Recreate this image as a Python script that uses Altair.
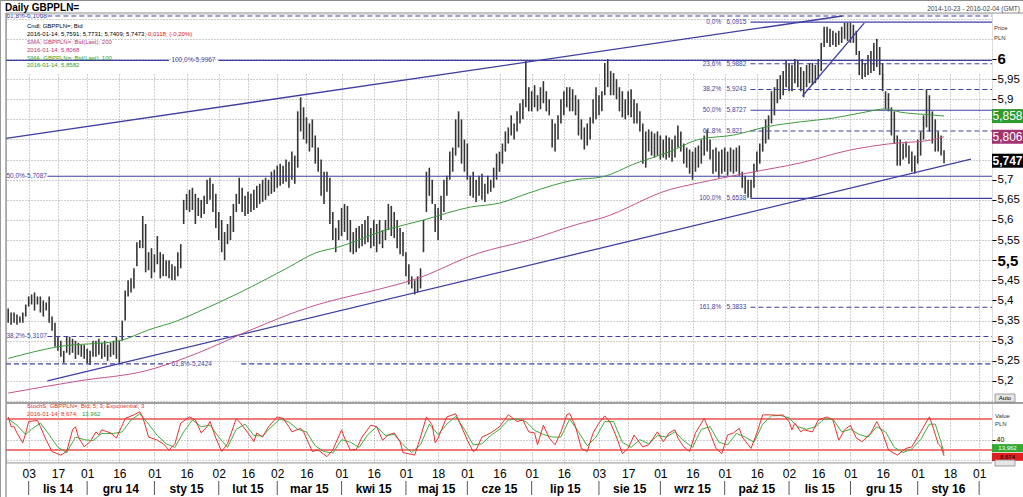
import altair as alt
import numpy as np
import pandas as pd

FONT = "Liberation Sans"
START = "2014-10-23"  # weekday index 0 = first candle

# ---------------- candles (daily high / low) ----------------
high = [
    5.38, 5.37, 5.37, 5.365, 5.36, 5.37, 5.39, 5.41, 5.415, 5.42,
    5.41, 5.41, 5.40, 5.395, 5.41, 5.36, 5.345, 5.31, 5.30, 5.275,
    5.31, 5.31, 5.305, 5.30, 5.295, 5.29, 5.29, 5.28, 5.275, 5.30,
    5.30, 5.305, 5.295, 5.30, 5.29, 5.295, 5.30, 5.31, 5.30, 5.35,
    5.425, 5.45, 5.455, 5.48, 5.545, 5.55, 5.61, 5.59, 5.52, 5.53,
    5.515, 5.56, 5.52, 5.515, 5.50, 5.50, 5.49, 5.485, 5.52, 5.54,
    5.65, 5.665, 5.675, 5.68, 5.665, 5.655, 5.65, 5.66, 5.70, 5.705,
    5.69, 5.665, 5.62, 5.60, 5.57, 5.59, 5.61, 5.64, 5.665, 5.705,
    5.68, 5.66, 5.67, 5.665, 5.675, 5.685, 5.69, 5.70, 5.705, 5.70,
    5.72, 5.725, 5.735, 5.74, 5.735, 5.75, 5.745, 5.77, 5.76, 5.87,
    5.905, 5.88, 5.855, 5.84, 5.85, 5.81, 5.78, 5.75, 5.72, 5.72,
    5.705, 5.62, 5.58, 5.60, 5.63, 5.64, 5.635, 5.60, 5.57, 5.58,
    5.585, 5.59, 5.60, 5.61, 5.58, 5.60, 5.59, 5.60, 5.575, 5.60,
    5.64, 5.635, 5.62, 5.60, 5.58, 5.57, 5.52, 5.49, 5.46, 5.45,
    5.46, 5.48, 5.60, 5.72, 5.73, 5.70, 5.64, 5.63, 5.66, 5.70,
    5.71, 5.77, 5.78, 5.85, 5.87, 5.85, 5.80, 5.79, 5.71, 5.72,
    5.70, 5.71, 5.715, 5.69, 5.71, 5.70, 5.73, 5.765, 5.77, 5.79,
    5.82, 5.83, 5.86, 5.84, 5.87, 5.89, 5.90, 5.995, 5.93, 5.92,
    5.935, 5.91, 5.93, 5.945, 5.92, 5.90, 5.85, 5.84, 5.86, 5.90,
    5.92, 5.93, 5.93, 5.925, 5.91, 5.90, 5.85, 5.83, 5.84, 5.855,
    5.90, 5.93, 5.91, 5.92, 5.99, 6.00, 5.97, 5.965, 5.95, 5.93,
    5.92, 5.90, 5.92, 5.925, 5.90, 5.89, 5.87, 5.84, 5.82, 5.825,
    5.82, 5.815, 5.82, 5.81, 5.80, 5.81, 5.805, 5.80, 5.81, 5.835,
    5.82, 5.79, 5.78, 5.775, 5.77, 5.78, 5.785, 5.80, 5.81, 5.825,
    5.80, 5.775, 5.78, 5.77, 5.775, 5.78, 5.77, 5.78, 5.775, 5.78,
    5.785, 5.72, 5.71, 5.70, 5.70, 5.74, 5.77, 5.79, 5.83, 5.85,
    5.86, 5.92, 5.93, 5.95, 5.96, 5.97, 5.995, 5.99, 5.985, 6.00,
    5.995, 5.98, 5.97, 5.985, 5.99, 5.99, 5.985, 6.00, 6.04, 6.08,
    6.08, 6.075, 6.07, 6.065, 6.07, 6.08, 6.09, 6.09, 6.09, 6.085,
    6.07, 6.02, 6.00, 5.99, 6.01, 6.02, 6.04, 6.05, 6.03, 5.99,
    5.92, 5.915, 5.88, 5.87, 5.81, 5.80, 5.79, 5.795, 5.785, 5.77,
    5.76, 5.80, 5.82, 5.86, 5.925, 5.91, 5.87, 5.85, 5.82, 5.81, 5.7731,
]
low = [
    5.345, 5.34, 5.345, 5.34, 5.345, 5.345, 5.36, 5.385, 5.39, 5.375,
    5.39, 5.37, 5.36, 5.375, 5.345, 5.325, 5.285, 5.275, 5.26, 5.245,
    5.27, 5.265, 5.27, 5.255, 5.265, 5.26, 5.255, 5.245, 5.24, 5.26,
    5.26, 5.265, 5.255, 5.26, 5.25, 5.26, 5.265, 5.255, 5.245, 5.30,
    5.35, 5.41, 5.42, 5.43, 5.485, 5.53, 5.53, 5.47, 5.475, 5.455,
    5.47, 5.49, 5.455, 5.46, 5.46, 5.455, 5.45, 5.45, 5.46, 5.48,
    5.59, 5.625, 5.62, 5.625, 5.59, 5.61, 5.605, 5.615, 5.64, 5.65,
    5.62, 5.58, 5.55, 5.52, 5.50, 5.54, 5.55, 5.57, 5.62, 5.64,
    5.62, 5.61, 5.615, 5.62, 5.625, 5.63, 5.64, 5.645, 5.65, 5.66,
    5.665, 5.67, 5.68, 5.685, 5.69, 5.695, 5.68, 5.70, 5.69, 5.73,
    5.82, 5.80, 5.79, 5.77, 5.78, 5.74, 5.72, 5.66, 5.64, 5.67,
    5.59, 5.55, 5.52, 5.55, 5.56, 5.57, 5.55, 5.52, 5.515, 5.52,
    5.53, 5.535, 5.54, 5.545, 5.53, 5.535, 5.52, 5.54, 5.53, 5.55,
    5.575, 5.56, 5.555, 5.53, 5.515, 5.51, 5.46, 5.44, 5.43, 5.415,
    5.42, 5.43, 5.52, 5.62, 5.66, 5.64, 5.57, 5.55, 5.60, 5.62,
    5.66, 5.70, 5.72, 5.76, 5.78, 5.74, 5.72, 5.70, 5.66, 5.655,
    5.645, 5.66, 5.65, 5.645, 5.665, 5.67, 5.68, 5.70, 5.72, 5.74,
    5.77, 5.79, 5.81, 5.80, 5.82, 5.84, 5.85, 5.88, 5.87, 5.87,
    5.88, 5.87, 5.875, 5.89, 5.87, 5.86, 5.78, 5.77, 5.80, 5.84,
    5.86, 5.88, 5.87, 5.87, 5.86, 5.81, 5.80, 5.775, 5.785, 5.80,
    5.84, 5.85, 5.86, 5.87, 5.91, 5.93, 5.91, 5.91, 5.90, 5.87,
    5.855, 5.85, 5.86, 5.855, 5.84, 5.84, 5.82, 5.74, 5.73, 5.77,
    5.76, 5.755, 5.76, 5.75, 5.755, 5.75, 5.755, 5.745, 5.755, 5.78,
    5.77, 5.74, 5.73, 5.715, 5.70, 5.72, 5.73, 5.74, 5.76, 5.77,
    5.75, 5.715, 5.72, 5.705, 5.715, 5.72, 5.71, 5.72, 5.715, 5.72,
    5.71, 5.68, 5.665, 5.655, 5.655, 5.68, 5.72, 5.74, 5.77, 5.79,
    5.80, 5.84, 5.86, 5.89, 5.90, 5.91, 5.93, 5.92, 5.92, 5.94,
    5.93, 5.92, 5.905, 5.93, 5.94, 5.935, 5.94, 5.95, 5.97, 6.03,
    6.04, 6.03, 6.035, 6.03, 6.035, 6.04, 6.05, 6.045, 6.04, 6.04,
    6.01, 5.96, 5.95, 5.955, 5.96, 5.965, 5.97, 5.98, 5.96, 5.92,
    5.875, 5.87, 5.81, 5.79, 5.735, 5.735, 5.75, 5.755, 5.74, 5.72,
    5.715, 5.74, 5.76, 5.80, 5.83, 5.82, 5.79, 5.77, 5.77, 5.76, 5.7409,
]

# ---------------- moving averages (sampled along the drawn lines) ----------------
sma100_idx = [0, 17, 38, 48, 58, 65, 79, 96, 105, 113, 129, 142, 158, 168, 178, 194, 203,
              215, 226, 236, 248, 259, 271, 282, 293, 300, 305, 316, 320]
sma100_val = [5.256, 5.285, 5.30, 5.327, 5.35, 5.372, 5.419, 5.483, 5.518, 5.533, 5.575, 5.60,
              5.632, 5.642, 5.667, 5.70, 5.707, 5.742, 5.769, 5.80, 5.811, 5.831, 5.844, 5.853,
              5.868, 5.876, 5.868, 5.861, 5.8582]
sma200_idx = [0, 24, 48, 65, 83, 102, 130, 138, 161, 178, 195, 203, 226, 236, 253, 271, 288,
              301, 316, 320]
sma200_val = [5.17, 5.20, 5.227, 5.27, 5.327, 5.381, 5.434, 5.45, 5.518, 5.55, 5.59, 5.605,
              5.675, 5.692, 5.717, 5.742, 5.774, 5.789, 5.799, 5.8068]

# ---------------- slow stochastic ----------------
stoch_k_idx = [0, 1, 2, 3, 5, 6, 7, 10, 11, 13, 15, 18, 20, 22, 23, 24, 26, 28, 30, 31,
               32, 35, 37, 39, 40, 43, 45, 46, 48, 51, 53, 55, 57, 59, 62, 64, 66, 68, 69, 71,
               73, 75, 77, 78, 80, 82, 84, 85, 87, 89, 92, 94, 96, 97, 100, 101, 104, 106, 109, 111,
               114, 115, 117, 119, 121, 124, 126, 128, 130, 132, 134, 135, 139, 141, 143, 145, 146, 147, 150, 153,
               154, 157, 159, 160, 162, 165, 168, 171, 172, 174, 176, 178, 180, 181, 183, 185, 187, 189, 191, 192,
               194, 196, 198, 200, 202, 204, 206, 208, 210, 212, 214, 217, 219, 222, 224, 226, 228, 229, 231, 233,
               235, 238, 240, 242, 244, 246, 248, 250, 251, 254, 256, 258, 261, 263, 265, 267, 268, 269, 271, 272,
               275, 277, 280, 282, 284, 286, 288, 290, 292, 295, 297, 299, 301, 304, 307, 309, 312, 315, 316, 318,
               319, 320]
stoch_k_val = [84, 65, 65, 53, 34, 53, 75, 77, 65, 39, 17, 10, 17, 59, 65, 45, 26, 36, 55, 49,
               59, 53, 43, 68, 81, 88, 94, 84, 45, 39, 32, 20, 32, 72, 84, 78, 53, 65, 75, 43,
               17, 32, 65, 81, 68, 53, 36, 53, 45, 65, 84, 81, 65, 55, 62, 55, 17, 20, 7, 20,
               59, 43, 20, 21, 45, 68, 65, 39, 49, 53, 36, 15, 10, 45, 84, 68, 34, 43, 84, 90,
               78, 39, 17, 20, 45, 53, 65, 88, 84, 75, 78, 55, 53, 30, 68, 43, 30, 55, 88, 91,
               65, 23, 17, 53, 72, 86, 72, 45, 13, 23, 49, 26, 30, 55, 36, 53, 59, 43, 26, 17,
               53, 81, 53, 23, 13, 49, 53, 62, 45, 23, 53, 88, 88, 87, 88, 75, 59, 72, 55, 59,
               55, 78, 84, 78, 39, 59, 68, 43, 36, 53, 75, 53, 20, 10, 23, 26, 55, 84, 68, 32,
               26, 8.674]
stoch_d_idx = [0, 3, 6, 8, 11, 14, 17, 20, 23, 26, 29, 32, 36, 39, 42, 45, 48, 51, 54, 57,
               60, 63, 66, 69, 72, 75, 78, 81, 84, 87, 90, 93, 96, 99, 102, 105, 108, 111, 114, 117,
               120, 123, 126, 129, 132, 135, 138, 141, 144, 147, 150, 153, 156, 159, 162, 165, 168, 171, 174, 177,
               180, 183, 186, 189, 192, 195, 198, 201, 204, 207, 210, 213, 216, 219, 222, 225, 228, 231, 234, 237,
               240, 243, 246, 249, 252, 255, 258, 261, 264, 267, 270, 273, 276, 279, 282, 285, 288, 291, 294, 297,
               300, 303, 306, 309, 312, 315, 317, 319, 320]
stoch_d_val = [80, 68, 50, 60, 72, 50, 25, 15, 45, 40, 38, 52, 52, 55, 78, 90, 70, 48, 32, 25,
               55, 78, 65, 68, 45, 25, 60, 70, 48, 47, 65, 80, 74, 60, 55, 28, 17, 14, 40, 35,
               25, 50, 65, 48, 50, 30, 15, 30, 70, 50, 70, 85, 60, 30, 32, 48, 60, 78, 80, 75,
               58, 50, 45, 45, 80, 55, 28, 45, 75, 75, 35, 25, 40, 32, 48, 45, 55, 38, 25, 60,
               65, 35, 30, 52, 45, 35, 70, 86, 87, 82, 65, 60, 65, 80, 80, 55, 60, 50, 45, 65,
               55, 25, 15, 22, 40, 70, 70, 35, 13.962]

# ---------------- axis labels ----------------
day_tick_dates = ["2014-11-03", "2014-11-17", "2014-12-01", "2014-12-16", "2015-01-01", "2015-01-16",
                  "2015-02-02", "2015-02-16", "2015-03-02", "2015-03-16", "2015-04-01", "2015-04-16",
                  "2015-05-01", "2015-05-18", "2015-06-01", "2015-06-16", "2015-07-01", "2015-07-16",
                  "2015-08-03", "2015-08-17", "2015-09-01", "2015-09-16", "2015-10-01", "2015-10-16",
                  "2015-11-02", "2015-11-16", "2015-12-01", "2015-12-16", "2016-01-01", "2016-01-18",
                  "2016-02-01"]
day_tick_labels = ["03", "17", "01", "16", "01", "16", "02", "16", "02", "16", "01", "16", "01", "18",
                   "01", "16", "01", "16", "03", "17", "01", "16", "01", "16", "02", "16", "01", "16",
                   "01", "18", "01"]
month_start_dates = ["2014-11-03", "2014-12-01", "2015-01-01", "2015-02-02", "2015-03-02", "2015-04-01",
                     "2015-05-01", "2015-06-01", "2015-07-01", "2015-08-03", "2015-09-01", "2015-10-01",
                     "2015-11-02", "2015-12-01", "2016-01-01", "2016-02-01"]
month_labels = ["lis 14", "gru 14", "sty 15", "lut 15", "mar 15", "kwi 15", "maj 15", "cze 15",
                "lip 15", "sie 15", "wrz 15", "paź 15", "lis 15", "gru 15", "sty 16"]
price_ticks = [5.15, 5.2, 5.25, 5.3, 5.35, 5.4, 5.45, 5.5, 5.55, 5.6, 5.65, 5.7, 5.75, 5.8,
               5.85, 5.9, 5.95, 6.0, 6.05, 6.1]

# ---------------- drawn trend lines (bar index / price) ----------------
trend_x1 = [-0.75, 13.4, 271.6]
trend_v1 = [5.803, 5.20, 5.908]
trend_x2 = [285.2, 329.2, 292.7]
trend_v2 = [6.1068, 5.751, 6.089]

# ---------------- Fibonacci levels ----------------
fib_values = [6.1068, 5.9967, 5.9967, 5.7087, 5.3107, 5.2424, 5.2424,
              6.0915, 5.9882, 5.9243, 5.8727, 5.821, 5.6538, 5.3833]
fib_start = [13.4, -0.75, 71.9, 13.4, 13.4, -0.75, 79.7,
             253.8, 253.8, 253.8, 253.8, 253.8, 253.8, 253.8]
fib_end = [336.4, 55.0, 336.4, 336.4, 336.4, 55.0, 336.4,
           336.4, 336.4, 336.4, 336.4, 336.4, 336.4, 336.4]
fib_dashed = [True, False, False, False, True, True, True,
              False, True, True, False, True, False, True]
fib1_text = ["61,8%-6,1068", "100,0%-5,9967", "50,0%-5,7087", "38,2%-5,3107", "61,8%-5,2424"]
fib1_value = [6.1068, 5.9967, 5.7087, 5.3107, 5.2424]
fib1_pos = [-0.6, 55.8, -0.6, -0.6, 55.8]
fib2_pct = ["0,0%", "23,6%", "38,2%", "50,0%", "61,8%", "100,0%", "161,8%"]
fib2_value = [6.0915, 5.9882, 5.9243, 5.8727, 5.821, 5.6538, 5.3833]
fib2_text = ["6,0915", "5,9882", "5,9243", "5,8727", "5,821", "5,6538", "5,3833"]

# last values shown in the right-hand boxes
last_close, last_sma200, last_sma100 = 5.7473, 5.8068, 5.8582
last_k, last_d = 8.674, 13.962
box_labels = {"close": "5,747", "sma200": "5,806", "sma100": "5,858", "k": "8,674", "d": "13,962"}

# ---------------- frames ----------------
W, H = 986, 448
XS = alt.Scale(domain=[-0.75, 336.4], nice=False, zero=False)
PS = alt.Scale(domain=[5.1478, 6.1118], range=[388, 0], nice=False, zero=False)
SS = alt.Scale(domain=[-3.3, 109], range=[448, 390], nice=False, zero=False)

tick_idx = [int(np.busday_count(START, d)) for d in day_tick_dates]
sep_idx = [int(np.busday_count(START, d)) for d in month_start_dates]
month_pos = [(a + b) / 2 for a, b in zip(sep_idx[:-1], sep_idx[1:])]

x_label_expr = "[" + ",".join("'%s'" % s for s in day_tick_labels) + "][indexof([" + \
    ",".join(str(v) for v in tick_idx) + "], datum.value)]"
XA = alt.Axis(values=tick_idx, labelExpr=x_label_expr, grid=True, gridDash=[1, 2],
              gridColor="#9c9c9c", domain=False, ticks=False, labelFontSize=12,
              labelFont=FONT, labelColor="#000", labelPadding=6, labelOverlap=False,
              labelFlush=False, title=None, zindex=0)


def X(field):
    return alt.X(field, type="quantitative", scale=XS, axis=XA)


PA = alt.Axis(orient="right", values=price_ticks,
              labelExpr="(datum.value > 6.01 || datum.value < 5.19 || (datum.value > 5.74 && datum.value < 5.86)) ? '' : replace(format(datum.value, '.2~f'), '.', ',')",
              grid=True, gridDash=[1, 2], gridColor="#9c9c9c", domain=False, tickSize=4,
              tickColor="#000",
              tickOpacity={"condition": {"test": "datum.value > 6.01 || datum.value < 5.19", "value": 0}, "value": 1},
              labelFontSize={"condition": {"test": "datum.value == 6 || datum.value == 5.5", "value": 15}, "value": 11.5},
              labelFontWeight={"condition": {"test": "datum.value == 6 || datum.value == 5.5", "value": "bold"}, "value": "normal"},
              labelFont=FONT, labelColor="#000", labelPadding=1, title=None, zindex=0)
SA = alt.Axis(orient="right", values=[0, 40], labelExpr="datum.value == 40 ? '40' : ''",
              grid=True, gridDash=[1, 2], gridColor="#9c9c9c", domain=False, tickSize=3,
              tickColor="#000", labelFontSize=7, labelFont=FONT, labelColor="#000",
              labelPadding=1, title=None, zindex=0)

dummy = pd.DataFrame({"d": [0]})


def note(text, x, y, size=6, color="#000", weight="normal", align="left"):
    return alt.Chart(dummy).mark_text(text=text, fontSize=size, font=FONT, color=color,
                                      fontWeight=weight, align=align, baseline="middle").encode(
        x=alt.value(x), y=alt.value(y))


def frame(x, y, x2=None, y2=None, color="#8c8c8c", w=1):
    enc = dict(x=alt.value(x), y=alt.value(y))
    if x2 is not None:
        enc["x2"] = alt.value(x2)
    if y2 is not None:
        enc["y2"] = alt.value(y2)
    return alt.Chart(dummy).mark_rule(color=color, strokeWidth=w).encode(**enc)


def vbox(v, label, scale, bg, fg, size, half, bold=False, off=0):
    d = pd.DataFrame({"v": [v], "t": [label]})
    rect = alt.Chart(d).mark_rect(color=bg, yOffset=off - half, y2Offset=off + half).encode(
        x=alt.value(986), x2=alt.value(1017),
        y=alt.Y("v:Q", scale=scale, axis=None), y2="v")
    txt = alt.Chart(d).mark_text(color=fg, fontSize=size, font=FONT, align="center",
                                 baseline="middle", dy=off,
                                 fontWeight="bold" if bold else "normal").encode(
        x=alt.value(1001.5), y=alt.Y("v:Q", scale=scale, axis=None), text="t:N")
    return [rect, txt]


bars = pd.DataFrame({"i": list(range(len(high))), "high": high, "low": low})
sma100 = pd.DataFrame({"i": sma100_idx, "v": sma100_val})
sma200 = pd.DataFrame({"i": sma200_idx, "v": sma200_val})
kdf = pd.DataFrame({"i": stoch_k_idx, "s": stoch_k_val})
ddf = pd.DataFrame({"i": stoch_d_idx, "s": stoch_d_val})
trend = pd.DataFrame({"x1": trend_x1, "v1": trend_v1, "x2": trend_x2, "v2": trend_v2})
fib = pd.DataFrame({"xs": fib_start, "xe": fib_end, "v": fib_values, "dashed": fib_dashed})
fib1 = pd.DataFrame({"t": fib1_text, "v": fib1_value, "p": fib1_pos})
fib2 = pd.DataFrame({"pct": fib2_pct, "t": fib2_text, "v": fib2_value})
bands = pd.DataFrame({"s": [20, 80]})
months = pd.DataFrame({"m": month_labels, "p": month_pos})
seps = pd.DataFrame({"p": sep_idx})

BLUE = "#3f3fa3"
layers = []

# candles (carry the price axis)
layers.append(alt.Chart(bars).mark_rule(color="#353535", strokeWidth=1.6).encode(
    x=X("i"), y=alt.Y("low:Q", scale=PS, axis=PA), y2="high"))
# stochastic band lines (carry the stochastic axis)
layers.append(alt.Chart(bands).mark_rule(color="#f27a7a", strokeWidth=2).encode(
    y=alt.Y("s:Q", scale=SS, axis=SA), x=alt.value(0), x2=alt.value(W)))

# Fibonacci levels
layers.append(alt.Chart(fib).transform_filter("datum.dashed").mark_rule(
    color=BLUE, strokeWidth=1.1, strokeDash=[5, 3]).encode(
    x=X("xs"), x2="xe", y=alt.Y("v:Q", scale=PS, axis=None)))
layers.append(alt.Chart(fib).transform_filter("!datum.dashed").mark_rule(
    color=BLUE, strokeWidth=1.2).encode(
    x=X("xs"), x2="xe", y=alt.Y("v:Q", scale=PS, axis=None)))
layers.append(alt.Chart(fib1).mark_text(fontSize=6.5, font=FONT, color=BLUE, align="left",
                                        baseline="middle", clip=True).encode(
    x=X("p"), y=alt.Y("v:Q", scale=PS, axis=None), text="t:N"))
layers.append(alt.Chart(fib2).mark_text(fontSize=6.5, font=FONT, color=BLUE, align="right",
                                        baseline="middle").encode(
    x=alt.X("pct_x:Q", scale=XS, axis=XA), y=alt.Y("v:Q", scale=PS, axis=None), text="pct:N"
).transform_calculate(pct_x="243.8"))
layers.append(alt.Chart(fib2).mark_text(fontSize=6.5, font=FONT, color=BLUE, align="left",
                                        baseline="middle").encode(
    x=alt.X("val_x:Q", scale=XS, axis=XA), y=alt.Y("v:Q", scale=PS, axis=None), text="t:N"
).transform_calculate(val_x="245.6"))

# trend lines
layers.append(alt.Chart(trend).mark_rule(color=BLUE, strokeWidth=1.3).encode(
    x=X("x1"), x2="x2", y=alt.Y("v1:Q", scale=PS, axis=None), y2="v2"))

# moving averages
layers.append(alt.Chart(sma200).mark_line(color="#c4548e", strokeWidth=1, interpolate="monotone").encode(
    x=X("i"), y=alt.Y("v:Q", scale=PS, axis=None)))
layers.append(alt.Chart(sma100).mark_line(color="#3d9b3d", strokeWidth=1, interpolate="monotone").encode(
    x=X("i"), y=alt.Y("v:Q", scale=PS, axis=None)))

# stochastic lines
layers.append(alt.Chart(ddf).mark_line(color="#3fae3f", strokeWidth=1).encode(
    x=X("i"), y=alt.Y("s:Q", scale=SS, axis=None)))
layers.append(alt.Chart(kdf).mark_line(color="#e8322e", strokeWidth=1).encode(
    x=X("i"), y=alt.Y("s:Q", scale=SS, axis=None)))

# frames
layers += [
    frame(-6, -13.5, x2=1017),
    frame(-5.5, -14, y2=483, color="#9a9a9a"),
    frame(0, -1, x2=1017),
    frame(0, -1, y2=483, color="#6e6e6e"),
    frame(0, 389, x2=1017, color="#a0a0a0", w=2),
    frame(0, 449, x2=W, color="#a0a0a0"),
]

# month labels and separators
layers.append(alt.Chart(months).mark_text(fontSize=12, font=FONT, fontWeight="bold", color="#000",
                                          baseline="middle").encode(
    x=X("p"), y=alt.value(475), text="m:N"))
layers.append(alt.Chart(seps).mark_rule(color="#555", strokeWidth=1).encode(
    x=X("p"), y=alt.value(467), y2=alt.value(481)))

# value boxes
layers += vbox(last_sma100, box_labels["sma100"], PS, "#2f9a2f", "#ffffff", 12, 7)
layers += vbox(last_sma200, box_labels["sma200"], PS, "#a3336f", "#ffffff", 12, 7)
layers += vbox(last_close, box_labels["close"], PS, "#000000", "#ffffff", 12, 7, bold=True)
layers += vbox(last_d, box_labels["d"], SS, "#33aa33", "#ffffff", 6, 4, off=-5)
layers += vbox(last_k, box_labels["k"], SS, "#e02020", "#000000", 6, 4, off=1)

# buttons
layers.append(alt.Chart(dummy).mark_rect(color="#e6e6e6", stroke="#888", strokeWidth=0.8).encode(
    x=alt.value(989), x2=alt.value(1009), y=alt.value(380), y2=alt.value(388)))
layers.append(note("Auto", 999, 384, size=6, align="center"))
layers.append(alt.Chart(dummy).mark_rect(color="#e6e6e6", stroke="#888", strokeWidth=0.8).encode(
    x=alt.value(989), x2=alt.value(1009), y=alt.value(446), y2=alt.value(452)))

# texts
layers += [
    note("Daily GBPPLN=", -1, -6, size=10, weight="bold"),
    note("2014-10-23 - 2016-02-04 (GMT)", 1014, -5, size=6.5, color="#444", align="right"),
    note("Price", 988, 14, size=6, color="#333"),
    note("PLN", 988, 24, size=6, color="#333"),
    note("Value", 989, 402, size=6, color="#333"),
    note("PLN", 989, 410, size=6, color="#333"),
    note("Cndl; GBPPLN=; Bid", 21, 11.5, size=6),
    note("2016-01-14; 5,7591; 5,7731; 5,7409; 5,7473;", 21, 20, size=6),
    note("-0,0118; (-0,20%)", 140, 20, size=6, color="#e01010"),
    note("SMA; GBPPLN=; Bid(Last); 200", 21, 28, size=6, color="#b8337a"),
    note("2016-01-14; 5,8068", 21, 35.5, size=6, color="#b8337a"),
    note("SMA; GBPPLN=; Bid(Last); 100", 21, 43.5, size=6, color="#2e9a2e"),
    note("2016-01-14; 5,8582", 21, 51, size=6, color="#2e9a2e"),
    note("StochS; GBPPLN=; Bid; 5; 3; Exponential; 3", 21, 392, size=6, color="#e03030"),
    note("2016-01-14; 8,674;", 21, 400, size=6, color="#e03030"),
    note("13,962", 76, 400, size=6, color="#2e9a2e"),
]

chart = alt.layer(*layers).resolve_scale(y="independent").properties(
    width=W, height=H,
    padding={"left": 6, "top": 14, "right": 31, "bottom": 35},
    autosize=alt.AutoSizeParams(type="none"),
    background="#ffffff",
).configure_view(stroke=None).configure(font=FONT)

chart.save("out.html", embed_options={"renderer": "svg", "actions": False})
